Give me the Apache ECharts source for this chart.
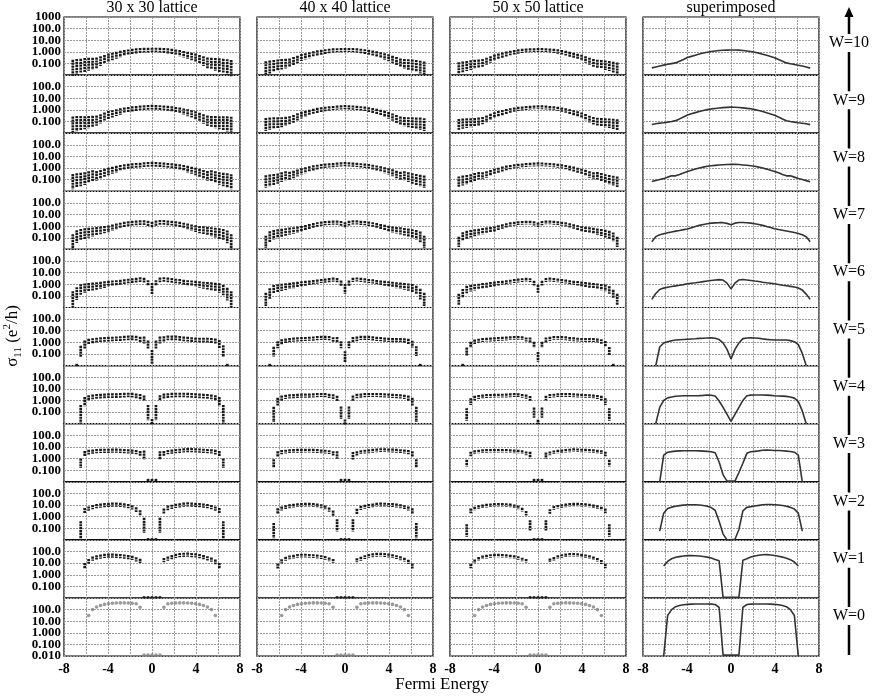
<!DOCTYPE html>
<html>
<head>
<meta charset="utf-8">
<script src="https://cdn.jsdelivr.net/npm/echarts@6/dist/echarts.min.js"></script>
<style>
html, body { margin: 0; padding: 0; background: #fff; }
#chart { width: 872px; height: 699px; }
</style>
</head>
<body>
<div id="chart"></div>
<script>
// Fermi energies of the sample points
const energies = [-7.2, -6.84, -6.48, -6.12, -5.76, -5.4, -5.04, -4.68, -4.32, -3.96, -3.6, -3.24, -2.88, -2.52, -2.16, -1.8, -1.44, -1.08, -0.72, -0.36,
  0, 0.36, 0.72, 1.08, 1.44, 1.8, 2.16, 2.52, 2.88, 3.24, 3.6, 3.96, 4.32, 4.68, 5.04, 5.4, 5.76, 6.12, 6.48, 6.84, 7.2]

// log10(sigma_11) at the middle of each cloud of realisations, per disorder W
const midW10 = [-1.38, -1.30, -1.22, -1.14, -1.07, -1.01, -0.95, -0.80, -0.65, -0.49, -0.39, -0.29, -0.19, -0.10, -0.03, 0.03, 0.08, 0.12, 0.14, 0.15,
  0.16, 0.16, 0.15, 0.12, 0.08, 0.03, -0.04, -0.11, -0.20, -0.30, -0.40, -0.50, -0.65, -0.80, -0.95, -1.02, -1.08, -1.15, -1.22, -1.31, -1.40]
const midW9 = [-1.25, -1.18, -1.13, -1.10, -1.05, -0.99, -0.92, -0.77, -0.60, -0.44, -0.33, -0.23, -0.13, -0.04, 0.03, 0.09, 0.13, 0.17, 0.20, 0.22,
  0.24, 0.23, 0.21, 0.18, 0.14, 0.10, 0.03, -0.05, -0.14, -0.24, -0.34, -0.46, -0.61, -0.78, -0.93, -1.00, -1.05, -1.10, -1.14, -1.19, -1.26]
const midW8 = [-1.16, -1.07, -0.99, -0.91, -0.78, -0.66, -0.67, -0.55, -0.42, -0.29, -0.19, -0.09, 0.01, 0.08, 0.15, 0.20, 0.23, 0.26, 0.29, 0.31,
  0.33, 0.32, 0.30, 0.27, 0.24, 0.20, 0.15, 0.08, 0.00, -0.09, -0.19, -0.29, -0.41, -0.55, -0.67, -0.66, -0.78, -0.90, -0.99, -1.08, -1.18]
const midW7 = [-1.35, -0.90, -0.74, -0.65, -0.57, -0.50, -0.43, -0.37, -0.30, -0.24, -0.13, -0.03, 0.07, 0.15, 0.21, 0.26, 0.28, 0.30, 0.30, 0.24,
  0.12, 0.26, 0.32, 0.32, 0.29, 0.26, 0.21, 0.15, 0.07, -0.03, -0.12, -0.22, -0.29, -0.35, -0.41, -0.48, -0.55, -0.64, -0.74, -0.92, -1.35]
const midW6 = [-1.30, -0.80, -0.45, -0.33, -0.26, -0.20, -0.14, -0.09, -0.03, 0.04, 0.09, 0.13, 0.18, 0.23, 0.28, 0.32, 0.36, 0.40, 0.36, 0.10,
  -0.40, 0.10, 0.37, 0.41, 0.37, 0.33, 0.28, 0.24, 0.18, 0.13, 0.09, 0.04, -0.02, -0.08, -0.13, -0.18, -0.24, -0.32, -0.50, -0.85, -1.30]
const midW5 = [null, -1.95, -0.80, -0.20, 0.05, 0.14, 0.20, 0.23, 0.25, 0.27, 0.29, 0.31, 0.33, 0.36, 0.38, 0.39, 0.36, 0.25, 0.20, -0.20,
  -1.25, -0.20, 0.20, 0.30, 0.38, 0.39, 0.38, 0.35, 0.30, 0.27, 0.24, 0.21, 0.20, 0.20, 0.20, 0.16, 0.08, -0.15, -0.75, -1.95, null]
const midW4 = [null, null, -1.20, -0.10, 0.20, 0.30, 0.35, 0.38, 0.40, 0.41, 0.41, 0.42, 0.43, 0.45, 0.47, 0.46, 0.40, 0.33, 0.18, -1.05,
  -1.85, -1.05, 0.20, 0.38, 0.42, 0.46, 0.47, 0.47, 0.47, 0.45, 0.43, 0.41, 0.39, 0.37, 0.35, 0.30, 0.20, -0.10, -1.20, null, null]
const midW3 = [null, null, -0.40, 0.40, 0.55, 0.60, 0.64, 0.66, 0.67, 0.67, 0.68, 0.68, 0.67, 0.65, 0.62, 0.60, 0.56, 0.45, 0.30, -1.85,
  -1.85, -1.85, 0.25, 0.45, 0.55, 0.60, 0.63, 0.67, 0.70, 0.73, 0.72, 0.70, 0.69, 0.67, 0.64, 0.61, 0.55, 0.40, -0.40, null, null]
const midW2 = [null, null, -1.20, 0.50, 0.70, 0.82, 0.90, 0.95, 0.99, 1.02, 1.03, 1.03, 1.01, 0.97, 0.90, 0.80, 0.60, 0.30, -0.75, -1.95,
  -1.95, -1.95, -0.75, 0.45, 0.75, 0.85, 0.92, 0.97, 1.03, 1.05, 1.04, 1.02, 1.00, 0.96, 0.90, 0.82, 0.70, 0.50, -1.20, null, null]
const midW1 = [null, null, null, 0.75, 1.15, 1.38, 1.50, 1.56, 1.62, 1.65, 1.65, 1.63, 1.61, 1.57, 1.52, 1.45, 1.32, 1.20, -1.95, -1.95,
  -1.95, -1.95, -1.95, 1.25, 1.38, 1.52, 1.62, 1.68, 1.72, 1.73, 1.70, 1.66, 1.60, 1.52, 1.42, 1.30, 1.10, 0.75, null, null, null]
const midW0 = [null, null, null, null, 1.50, 2.00, 2.22, 2.35, 2.45, 2.50, 2.55, 2.57, 2.58, 2.58, 2.57, 2.55, 2.50, 2.20, -1.92, -1.92,
  -1.92, -1.92, -1.92, 2.20, 2.50, 2.55, 2.57, 2.58, 2.58, 2.57, 2.55, 2.50, 2.45, 2.35, 2.22, 2.00, 1.50, null, null, null, null]

// half height of each cloud, in decades (30 x 30 lattice)
const sprW10 = [0.60, 0.58, 0.52, 0.50, 0.45, 0.40, 0.36, 0.32, 0.28, 0.25, 0.22, 0.20, 0.18, 0.16, 0.14, 0.13, 0.12, 0.11, 0.10, 0.10,
  0.10, 0.10, 0.10, 0.11, 0.12, 0.13, 0.14, 0.16, 0.18, 0.20, 0.22, 0.25, 0.28, 0.32, 0.36, 0.40, 0.45, 0.50, 0.52, 0.58, 0.60]
const sprW9 = [0.58, 0.55, 0.50, 0.46, 0.42, 0.38, 0.34, 0.30, 0.27, 0.24, 0.21, 0.19, 0.17, 0.15, 0.13, 0.12, 0.11, 0.10, 0.10, 0.10,
  0.10, 0.10, 0.10, 0.10, 0.11, 0.12, 0.13, 0.15, 0.17, 0.19, 0.21, 0.24, 0.27, 0.30, 0.34, 0.38, 0.42, 0.46, 0.50, 0.55, 0.58]
const sprW8 = [0.55, 0.52, 0.48, 0.44, 0.40, 0.36, 0.32, 0.28, 0.25, 0.22, 0.20, 0.18, 0.16, 0.14, 0.12, 0.11, 0.10, 0.10, 0.10, 0.10,
  0.10, 0.10, 0.10, 0.10, 0.10, 0.11, 0.12, 0.14, 0.16, 0.18, 0.20, 0.22, 0.25, 0.28, 0.32, 0.36, 0.40, 0.44, 0.48, 0.52, 0.55]
const sprW7 = [0.55, 0.45, 0.40, 0.36, 0.32, 0.29, 0.26, 0.23, 0.21, 0.19, 0.17, 0.15, 0.13, 0.12, 0.11, 0.10, 0.10, 0.10, 0.10, 0.12,
  0.15, 0.12, 0.10, 0.10, 0.10, 0.10, 0.11, 0.12, 0.13, 0.15, 0.17, 0.19, 0.21, 0.23, 0.26, 0.29, 0.32, 0.36, 0.40, 0.45, 0.55]
const sprW6 = [0.60, 0.45, 0.35, 0.30, 0.27, 0.24, 0.22, 0.20, 0.18, 0.16, 0.14, 0.12, 0.11, 0.10, 0.10, 0.10, 0.10, 0.10, 0.10, 0.15,
  0.40, 0.15, 0.10, 0.10, 0.10, 0.10, 0.10, 0.10, 0.11, 0.12, 0.14, 0.16, 0.18, 0.20, 0.22, 0.24, 0.27, 0.30, 0.35, 0.45, 0.60]
const sprW5 = [0, 0, 0.40, 0.25, 0.15, 0.12, 0.10, 0.10, 0.10, 0.10, 0.10, 0.10, 0.10, 0.10, 0.10, 0.10, 0.10, 0.12, 0.20, 0.25,
  0.50, 0.25, 0.20, 0.12, 0.10, 0.10, 0.10, 0.10, 0.10, 0.10, 0.10, 0.10, 0.10, 0.10, 0.10, 0.12, 0.15, 0.25, 0.40, 0, 0]
const sprW4 = [0, 0, 0.70, 0.30, 0.15, 0.10, 0.10, 0.10, 0.10, 0.10, 0.10, 0.10, 0.10, 0.10, 0.10, 0.10, 0.10, 0.12, 0.15, 0.55,
  0.15, 0.55, 0.15, 0.12, 0.10, 0.10, 0.10, 0.10, 0.10, 0.10, 0.10, 0.10, 0.10, 0.10, 0.10, 0.10, 0.15, 0.30, 0.70, 0, 0]
const sprW3 = [0, 0, 0.30, 0.15, 0.10, 0.08, 0.08, 0.08, 0.08, 0.08, 0.08, 0.08, 0.08, 0.08, 0.08, 0.08, 0.08, 0.10, 0.28, 0,
  0, 0, 0.28, 0.10, 0.08, 0.08, 0.08, 0.08, 0.08, 0.08, 0.08, 0.08, 0.08, 0.08, 0.08, 0.08, 0.10, 0.15, 0.30, 0, 0]
const sprW2 = [0, 0, 0.70, 0.15, 0.08, 0.08, 0.08, 0.08, 0.08, 0.08, 0.08, 0.08, 0.08, 0.08, 0.08, 0.08, 0.10, 0.15, 0.55, 0,
  0, 0, 0.55, 0.15, 0.10, 0.08, 0.08, 0.08, 0.08, 0.08, 0.08, 0.08, 0.08, 0.08, 0.08, 0.08, 0.08, 0.15, 0.70, 0, 0]
const sprW1 = [0, 0, 0, 0.15, 0.10, 0.08, 0.08, 0.08, 0.08, 0.08, 0.08, 0.08, 0.08, 0.08, 0.08, 0.08, 0.08, 0.08, 0, 0,
  0, 0, 0, 0.08, 0.08, 0.08, 0.08, 0.08, 0.08, 0.08, 0.08, 0.08, 0.08, 0.08, 0.08, 0.08, 0.10, 0.15, 0, 0, 0]

// averaged curves of the "superimposed" column where they differ from the cloud middles
const lineW5 = [null, -2.00, -0.40, -0.05, 0.06, 0.14, 0.20, 0.23, 0.25, 0.27, 0.29, 0.31, 0.34, 0.36, 0.38, 0.39, 0.36, 0.24, -0.05, -0.60,
  -1.43, -0.60, -0.05, 0.32, 0.38, 0.39, 0.38, 0.35, 0.30, 0.26, 0.23, 0.20, 0.20, 0.20, 0.20, 0.15, 0.06, -0.20, -0.95, -2.00, null]
const lineW4 = [null, -2.00, -0.60, 0.00, 0.22, 0.30, 0.36, 0.38, 0.40, 0.41, 0.41, 0.41, 0.42, 0.44, 0.47, 0.45, 0.38, -0.05, -0.60, -1.20,
  -1.80, -1.20, -0.60, 0.00, 0.40, 0.46, 0.47, 0.47, 0.47, 0.46, 0.44, 0.41, 0.39, 0.37, 0.35, 0.30, 0.20, -0.10, -0.90, -2.00, null]
const lineW3 = [null, null, -2.00, 0.30, 0.55, 0.60, 0.64, 0.66, 0.67, 0.67, 0.67, 0.67, 0.66, 0.64, 0.62, 0.59, 0.50, -0.30, -1.40, -1.94,
  -1.94, -1.94, -1.20, -0.40, 0.45, 0.58, 0.62, 0.66, 0.71, 0.73, 0.72, 0.70, 0.69, 0.67, 0.64, 0.61, 0.55, 0.30, -2.00, null, null]
const lineW2 = [null, null, -1.25, 0.30, 0.70, 0.82, 0.90, 0.95, 0.99, 1.02, 1.02, 1.02, 1.00, 0.96, 0.90, 0.78, 0.55, -0.40, -1.50, -2.00,
  -2.00, -1.95, -1.10, 0.50, 0.80, 0.86, 0.92, 0.97, 1.03, 1.05, 1.04, 1.02, 1.00, 0.96, 0.90, 0.80, 0.65, 0.30, -1.25, null, null]
const lineW0 = [null, null, null, -2.00, 1.50, 2.00, 2.25, 2.35, 2.42, 2.45, 2.47, 2.48, 2.48, 2.48, 2.48, 2.47, 2.44, 2.20, -1.92, -1.92,
  -1.92, -1.92, -1.92, 2.20, 2.44, 2.47, 2.48, 2.48, 2.48, 2.48, 2.47, 2.45, 2.42, 2.35, 2.25, 2.00, 1.50, -2.00, null, null, null]

// indexed by W
const midByW = [midW0, midW1, midW2, midW3, midW4, midW5, midW6, midW7, midW8, midW9, midW10]
const sprByW = [null, sprW1, sprW2, sprW3, sprW4, sprW5, sprW6, sprW7, sprW8, sprW9, sprW10]
const lineByW = [lineW0, midW1, lineW2, lineW3, lineW4, lineW5, midW6, midW7, midW8, midW9, midW10]

const titles = ['30 x 30 lattice', '40 x 40 lattice', '50 x 50 lattice', 'superimposed']
const latticeSpread = [1, 0.78, 0.62]
const yTickText = { '2': '100.0', '1': '10.00', '0': '1.000', '-1': '0.100' }
const yEndText = ['1000', '0.010']

const colLeft = [64, 257, 450, 643]
const panelW = 176
const top0 = 17
const panelH = 58.1
const serif = '"Liberation Serif", "DejaVu Serif", serif'
const labelFont = 'bold 13px ' + serif

const chart = echarts.init(document.getElementById('chart'))

const grids = []
const xAxes = []
const yAxes = []
const series = []

for (let r = 0; r < 11; r++) {
  const W = 10 - r
  for (let c = 0; c < 4; c++) {
    const idx = grids.length
    grids.push({
      left: colLeft[c],
      top: top0 + r * panelH,
      width: panelW,
      height: panelH,
      show: true,
      borderColor: '#000',
      borderWidth: 1.2,
      backgroundColor: 'transparent',
      containLabel: false,
      outerBoundsMode: 'none'
    })
    xAxes.push({
      gridIndex: idx,
      type: 'value',
      min: -8,
      max: 8,
      interval: 2,
      axisLine: { show: false },
      axisTick: { show: false },
      splitLine: { show: true, lineStyle: { color: '#9a9a9a', width: 1, type: [2, 1] } },
      axisLabel: {
        show: r === 10,
        margin: 6,
        color: '#000',
        fontFamily: serif,
        fontWeight: 'bold',
        fontSize: 14,
        showMinLabel: true,
        showMaxLabel: true,
        formatter: v => (v % 4 === 0 ? String(v) : '')
      }
    })
    yAxes.push({
      gridIndex: idx,
      type: 'log',
      logBase: 10,
      min: 0.01,
      max: 1000,
      splitNumber: 5,
      axisLine: { show: false },
      axisTick: { show: false },
      splitLine: { show: true, lineStyle: { color: '#9a9a9a', width: 1, type: [2, 1] } },
      axisLabel: {
        show: c === 0,
        margin: 3,
        color: '#000',
        fontFamily: serif,
        fontWeight: 'bold',
        fontSize: 13,
        formatter: v => yTickText[Math.round(Math.log10(v))] || ''
      }
    })

    const mid = midByW[W]
    if (c === 3) {
      const line = lineByW[W]
      const pts = []
      energies.forEach((e, i) => {
        if (line[i] !== null) pts.push([e, Math.pow(10, line[i])])
      })
      series.push({
        type: 'line',
        xAxisIndex: idx,
        yAxisIndex: idx,
        data: pts,
        showSymbol: false,
        smooth: false,
        silent: true,
        animation: false,
        lineStyle: { color: '#333', width: 1.6 }
      })
    } else if (W === 0) {
      const pts = []
      energies.forEach((e, i) => {
        if (mid[i] !== null) pts.push([e, Math.pow(10, mid[i])])
      })
      series.push({
        type: 'scatter',
        xAxisIndex: idx,
        yAxisIndex: idx,
        data: pts,
        symbol: 'circle',
        symbolSize: 3.6,
        silent: true,
        animation: false,
        itemStyle: { color: '#808080' }
      })
    } else {
      const spr = sprByW[W]
      const k = latticeSpread[c]
      const pts = []
      energies.forEach((e, i) => {
        if (mid[i] === null) return
        const s = spr[i] * k
        pts.push([e, Math.pow(10, mid[i] - s), Math.pow(10, mid[i] + s)])
      })
      series.push({
        type: 'custom',
        xAxisIndex: idx,
        yAxisIndex: idx,
        data: pts,
        silent: true,
        animation: false,
        encode: { x: 0, y: [1, 2] },
        renderItem: (params, api) => {
          const hi = api.coord([api.value(0), api.value(2)])
          const lo = api.coord([api.value(0), api.value(1)])
          return {
            type: 'line',
            shape: { x1: hi[0], y1: hi[1] - 1.2, x2: lo[0], y2: lo[1] + 1.2 },
            style: { stroke: '#1a1a1a', lineWidth: 2.7, lineDash: [2.2, 0.7] }
          }
        }
      })
    }
  }
}

const graphics = []
// end labels of the shared y scale (top of first row, bottom of last row)
graphics.push({
  type: 'text', x: colLeft[0] - 3, y: top0,
  style: { text: yEndText[0], font: labelFont, fill: '#000', align: 'right', verticalAlign: 'middle' }
})
graphics.push({
  type: 'text', x: colLeft[0] - 3, y: top0 + 11 * panelH,
  style: { text: yEndText[1], font: labelFont, fill: '#000', align: 'right', verticalAlign: 'middle' }
})
titles.forEach((t, c) => {
  graphics.push({
    type: 'text',
    x: colLeft[c] + panelW / 2,
    y: 8,
    style: { text: t, font: '16px ' + serif, fill: '#000', align: 'center', verticalAlign: 'middle' }
  })
})
graphics.push({
  type: 'text',
  x: 442,
  y: 685,
  style: { text: 'Fermi Energy', font: '17px ' + serif, fill: '#000', align: 'center', verticalAlign: 'middle' }
})
graphics.push({
  type: 'text',
  x: 13,
  y: 336,
  rotation: Math.PI / 2,
  style: {
    text: '{a|σ}{b|11}{a| (e}{c|2}{a|/h)}',
    align: 'center',
    verticalAlign: 'middle',
    fill: '#000',
    rich: {
      a: { fontFamily: serif, fontSize: 17, lineHeight: 22, verticalAlign: 'middle', color: '#000' },
      b: { fontFamily: serif, fontSize: 11, lineHeight: 11, verticalAlign: 'bottom', color: '#000' },
      c: { fontFamily: serif, fontSize: 11, lineHeight: 11, verticalAlign: 'top', color: '#000' }
    }
  }
})
// W axis on the right
graphics.push({ type: 'line', shape: { x1: 849, y1: 14, x2: 849, y2: 655 }, style: { stroke: '#000', lineWidth: 2.5 } })
graphics.push({ type: 'polygon', shape: { points: [[849, 7], [844.5, 17], [853.5, 17]] }, style: { fill: '#000' } })
for (let r = 0; r < 11; r++) {
  const y = 43 + 57.3 * r
  graphics.push({ type: 'rect', shape: { x: 826, y: y - 9, width: 46, height: 18 }, style: { fill: '#fff' } })
  graphics.push({
    type: 'text',
    x: 849,
    y: y,
    style: { text: 'W=' + (10 - r), font: '16px ' + serif, fill: '#000', align: 'center', verticalAlign: 'middle' }
  })
}

chart.setOption({
  animation: false,
  grid: grids,
  xAxis: xAxes,
  yAxis: yAxes,
  series: series,
  graphic: graphics
})
</script>
</body>
</html>
